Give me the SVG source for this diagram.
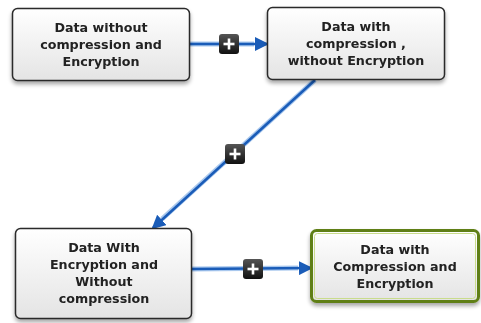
<svg xmlns="http://www.w3.org/2000/svg" width="481" height="323" viewBox="0 0 481 323">
<defs>
<linearGradient id="g" x1="0" y1="0" x2="0" y2="1"><stop offset="0" stop-color="#ffffff"/><stop offset="1" stop-color="#e4e4e4"/></linearGradient>
<linearGradient id="pg" x1="0" y1="0" x2="0" y2="1"><stop offset="0" stop-color="#555"/><stop offset="1" stop-color="#111"/></linearGradient>
<filter id="sh" x="-10%" y="-10%" width="120%" height="130%"><feGaussianBlur in="SourceAlpha" stdDeviation="2"/><feOffset dy="3"/><feComponentTransfer><feFuncA type="linear" slope="0.35"/></feComponentTransfer><feMerge><feMergeNode/><feMergeNode in="SourceGraphic"/></feMerge></filter>
<marker id="ah" markerWidth="14" markerHeight="14" refX="12" refY="7" orient="auto" markerUnits="userSpaceOnUse"><path d="M0,0 L14,7 L0,14 Z" fill="#1a5cb8"/></marker>
</defs>
<style>
.box{fill:url(#g);stroke:#2b2b2b;stroke-width:1.5}
.t{font-family:"DejaVu Sans",sans-serif;font-weight:bold;font-size:12.7px;fill:#222;text-anchor:middle}
.glow{stroke:#a9c8ee;stroke-width:5;fill:none}
.ln{stroke:#1a5cb8;stroke-width:2.5;fill:none}
.pl{stroke:#fff;stroke-width:2.6}
</style>
<g id="connectors">
<line class="glow" x1="190" y1="44" x2="254" y2="44"/>
<line class="ln" x1="190" y1="44" x2="267" y2="44" marker-end="url(#ah)"/>
<line class="glow" x1="315" y1="80" x2="162" y2="219"/>
<line class="ln" x1="315" y1="80" x2="153" y2="228" marker-end="url(#ah)"/>
<line class="glow" x1="192" y1="269" x2="298" y2="268"/>
<line class="ln" x1="192" y1="269" x2="311" y2="268" marker-end="url(#ah)"/>
<g><rect x="219" y="34" width="20" height="20" rx="3" fill="url(#pg)"/><line class="pl" x1="223.5" y1="44" x2="234.5" y2="44"/><line class="pl" x1="229" y1="38.5" x2="229" y2="49.5"/></g>
<g><rect x="225" y="144" width="20" height="20" rx="3" fill="url(#pg)"/><line class="pl" x1="229.5" y1="154" x2="240.5" y2="154"/><line class="pl" x1="235" y1="148.5" x2="235" y2="159.5"/></g>
<g><rect x="243" y="259" width="20" height="20" rx="3" fill="url(#pg)"/><line class="pl" x1="247.5" y1="269" x2="258.5" y2="269"/><line class="pl" x1="253" y1="263.5" x2="253" y2="274.5"/></g>
</g>
<g id="n1" filter="url(#sh)">
<rect class="box" x="12.5" y="8.5" width="177" height="72" rx="5"/>
<text class="t" x="101" y="32">Data without</text>
<text class="t" x="101" y="49">compression and</text>
<text class="t" x="101" y="66">Encryption</text>
</g>
<g id="n2" filter="url(#sh)">
<rect class="box" x="267.5" y="7.5" width="177" height="72" rx="5"/>
<text class="t" x="356" y="31">Data with</text>
<text class="t" x="356" y="48">compression ,</text>
<text class="t" x="356" y="65">without Encryption</text>
</g>
<g id="n3" filter="url(#sh)">
<rect class="box" x="15.5" y="228.5" width="176" height="90" rx="5"/>
<text class="t" x="104" y="252">Data With</text>
<text class="t" x="104" y="269">Encryption and</text>
<text class="t" x="104" y="286">Without</text>
<text class="t" x="104" y="303">compression</text>
</g>
<g id="n4" filter="url(#sh)">
<rect x="311.5" y="230.5" width="167" height="71" rx="5" fill="url(#g)" stroke="#5e7f16" stroke-width="3"/>
<rect x="314.5" y="233.5" width="161" height="65" rx="3" fill="none" stroke="#c9dc8c" stroke-width="1"/>
<text class="t" x="395" y="254">Data with</text>
<text class="t" x="395" y="271">Compression and</text>
<text class="t" x="395" y="288">Encryption</text>
</g>
</svg>
